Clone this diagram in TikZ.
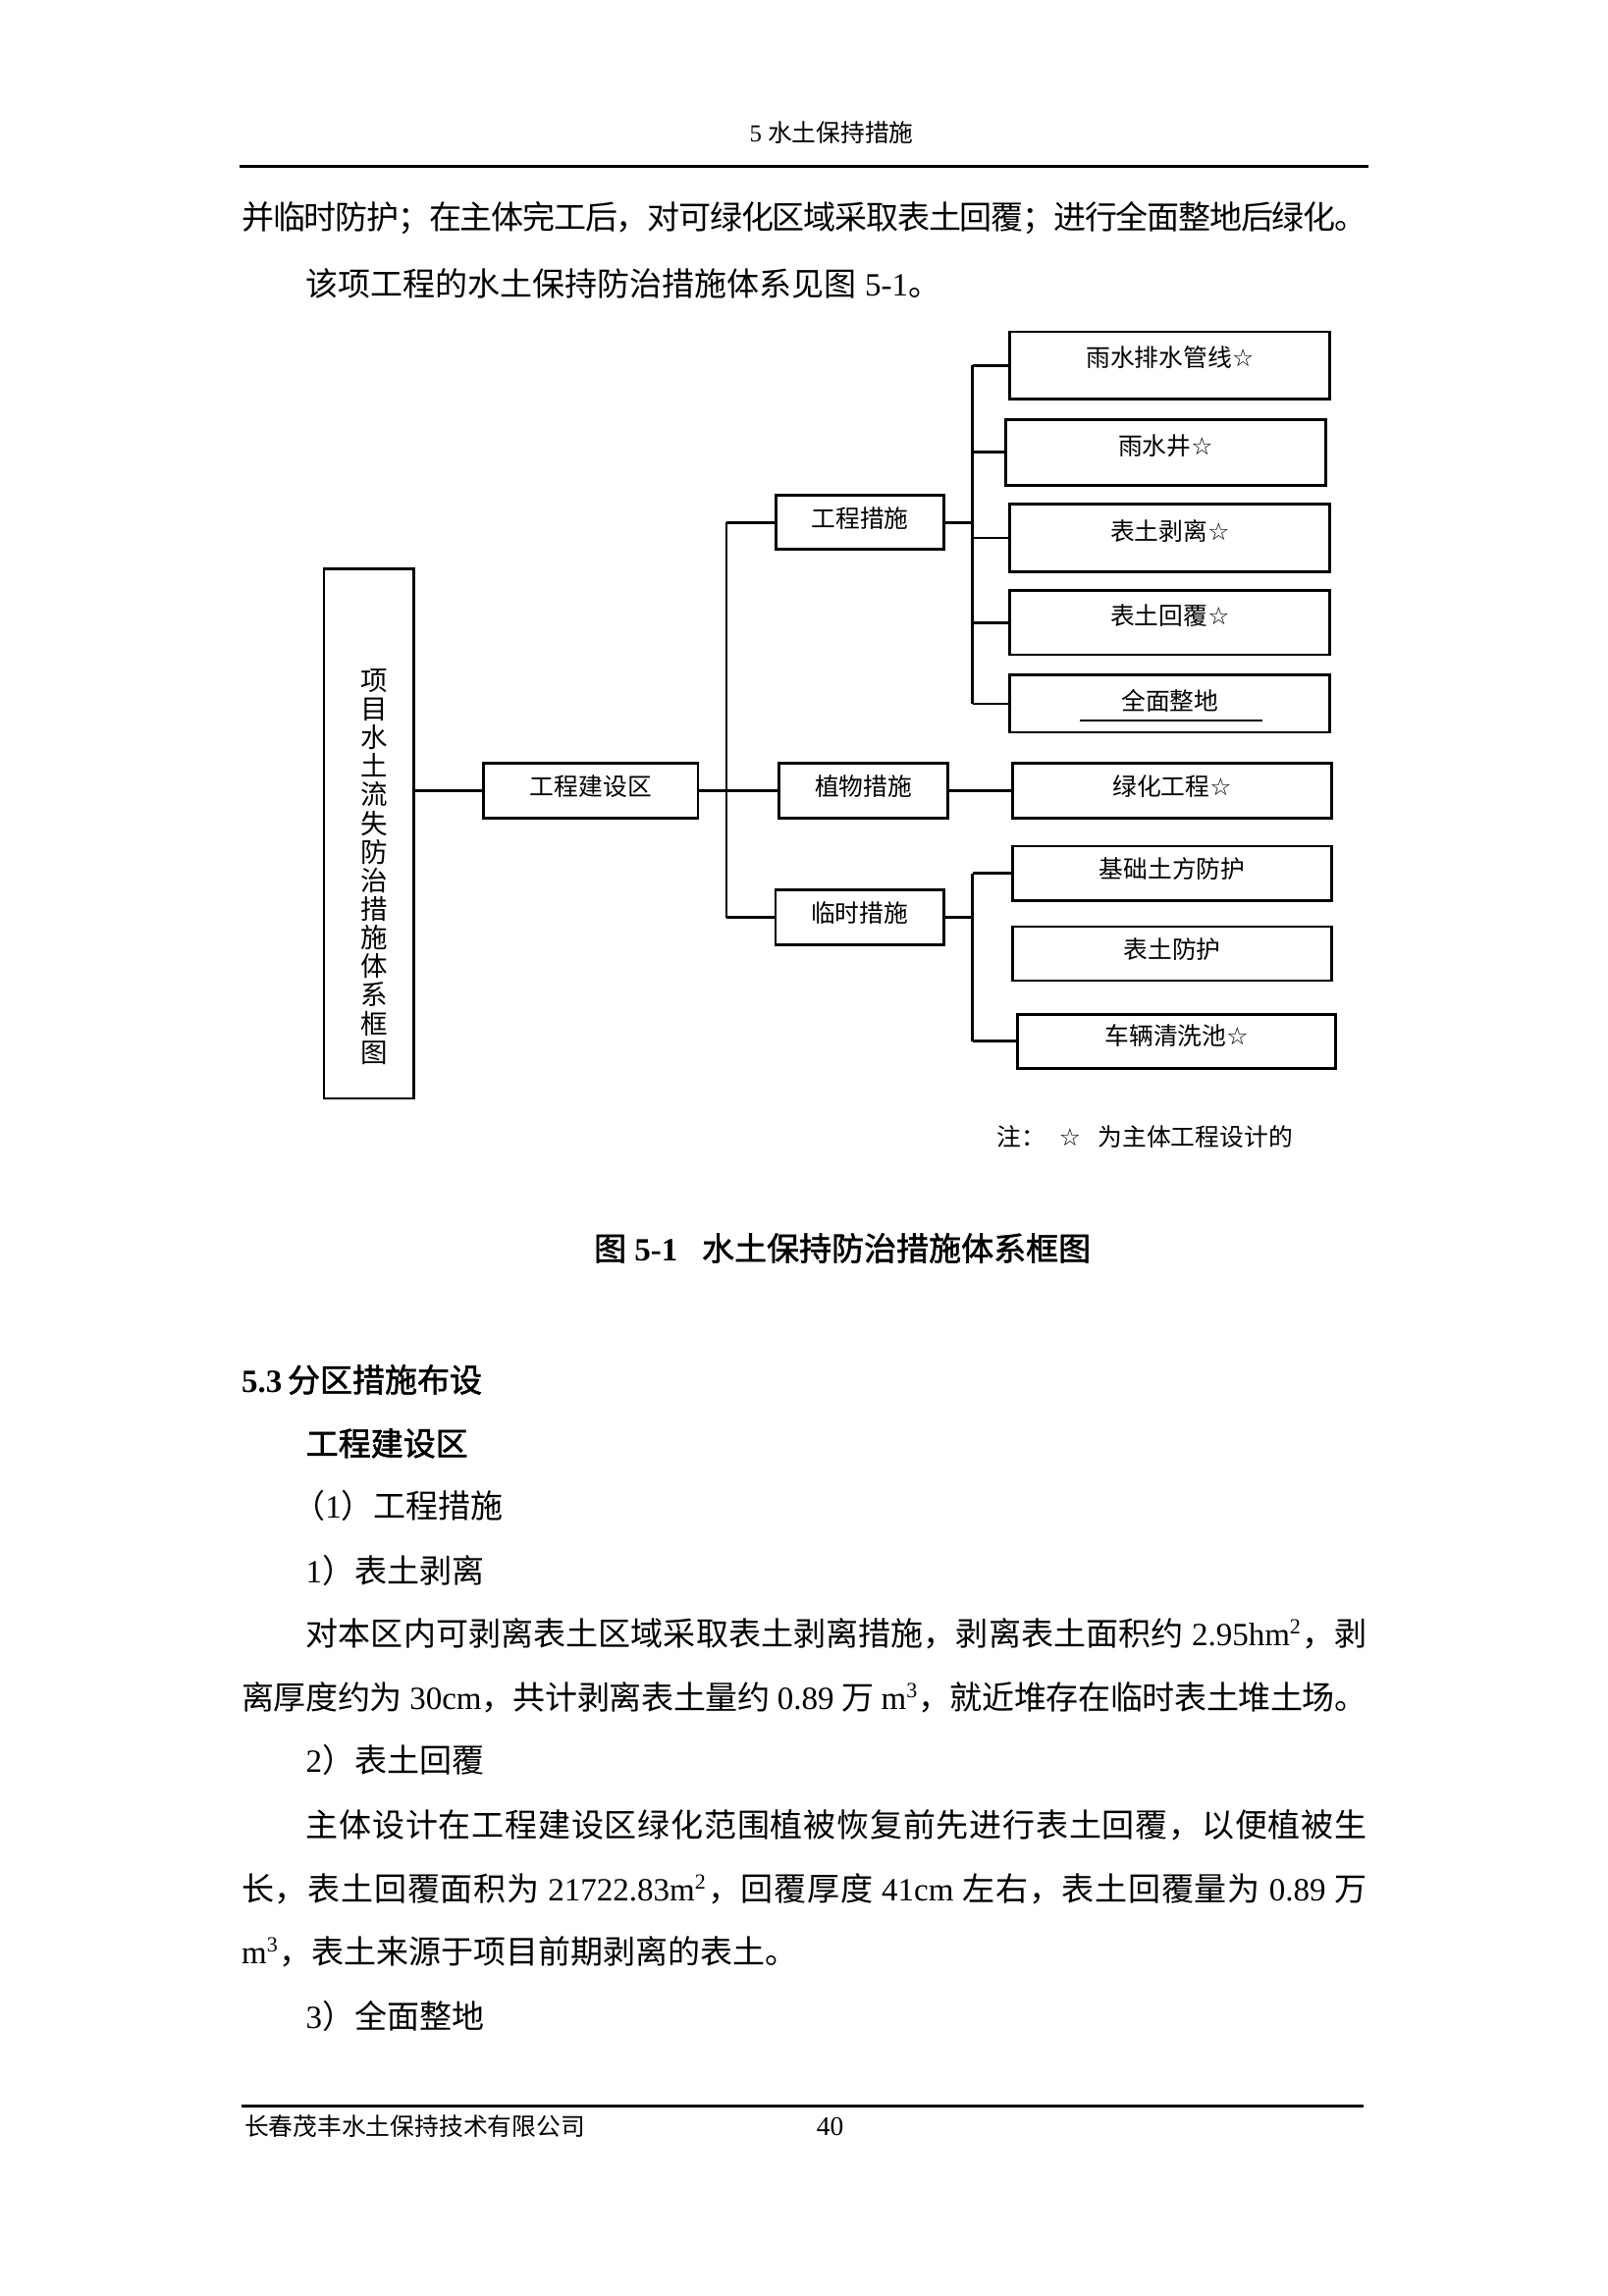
\documentclass[tikz,border=0pt]{standalone}
\usepackage{fontspec}
\setmainfont{Liberation Serif}
\newfontfamily\cjk{Noto Sans CJK SC}
\newfontfamily\cjkb[FakeBold=1.6]{Noto Sans CJK SC}
\newfontfamily\symf{DejaVu Sans}
\newcommand\latn{\rmfamily}
\newcommand\wstar{{\symf ☆}}
\newcommand\bt[2][2.3pt]{\raisebox{-#1}[\height][\depth]{#2}}
\usetikzlibrary{fit}
\makeatletter
\def\sp@end{\relax}
\def\sp@endmark{\sp@end}
\newcommand\spread[1]{\sp@first#1\sp@end}
\def\sp@first#1{{#1}\sp@next}
\def\sp@next#1{\def\sp@tmp{#1}\ifx\sp@tmp\sp@endmark\else\hskip0pt plus 1fil minus 1pt\relax{#1}\expandafter\sp@next\fi}
\makeatother
\tikzset{
  box/.style={draw, line width=1pt, inner sep=0pt, font=\cjk\fontsize{9}{10}\selectfont},
  conn/.style={line width=1pt},
  txt/.style={inner sep=0pt, anchor=west, font=\cjk\fontsize{12}{12}\selectfont},
  small/.style={inner sep=0pt, font=\cjk\fontsize{9}{10}\selectfont},
  rulebar/.style={line width=1.2pt},
}
\begin{document}
\begin{tikzpicture}[x=0.5412pt, y=-0.5412pt]
\useasboundingbox (0,0) rectangle (1100,1571);
\fill[white] (0,0) rectangle (1100,1571);

% header
\node[small, anchor=center] (hdr) at (569,91) {{\latn 5 }水土保持措施};
\draw[rulebar] (164,114) -- (936,114);

% top text
\node[txt] (p1) at (165,149) {\hbox to 416.7pt{\spread{并临时防护；在主体完工后，对可绿化区域采取表土回覆；进行全面整地后绿化。}}};
\node[txt] (p2) at (209,194) {该项工程的水土保持防治措施体系见图{\latn\ 5-1}。};

% diagram boxes
\node[box, fit={(221.6,389) (283,751.5)}] (big) {};
\node[inner sep=0pt, align=center, font=\cjk\fontsize{10}{10.6}\selectfont] (bigtxt) at (256,593) {项\\目\\水\\土\\流\\失\\防\\治\\措\\施\\体\\系\\框\\图};
\node[box, fit={(331,522) (477.5,560)}] (gcjsq) {\bt{工程建设区}};
\node[box, fit={(531,339) (646,376)}] (gccs) {\bt{工程措施}};
\node[box, fit={(533,522) (648.5,560)}] (zwcs) {\bt{植物措施}};
\node[box, fit={(530.6,609) (645.8,646.5)}] (lscs) {\bt{临时措施}};
\node[box, fit={(691,227) (910,273)}] (r1) {\bt[1pt]{雨水排水管线\wstar}};
\node[box, fit={(688,287) (907,332)}] (r2) {\bt[1.2pt]{雨水井\wstar}};
\node[box, fit={(691,345) (910,391)}] (r3) {\bt[1.2pt]{表土剥离\wstar}};
\node[box, fit={(691,404) (910,448)}] (r4) {\bt[1.2pt]{表土回覆\wstar}};
\node[box, fit={(691,462) (910,501)}] (r5) {\bt[2.8pt]{全面整地}};
\draw[line width=0.4pt] (739,493) -- (864,493);
\node[box, fit={(693,522) (911,560)}] (r6) {\bt{绿化工程\wstar}};
\node[box, fit={(693,579) (911,616)}] (r7) {\bt{基础土方防护}};
\node[box, fit={(693,634) (911,671)}] (r8) {\bt{表土防护}};
\node[box, fit={(696,694) (914,731)}] (r9) {\bt[1.8pt]{车辆清洗池\wstar}};

% connectors
\coordinate (ta) at (497,357.5);
\coordinate (tb) at (497,627.75);
\coordinate (tc) at (665.5,400);
\draw[conn] (big.east |- gcjsq.west) -- (gcjsq.west);
\draw[conn] (gcjsq.east) -- (gcjsq.east -| ta);
\draw[conn] (ta) -- (tb);
\draw[conn] (ta) -- (gccs.west);
\draw[conn] (zwcs.west -| ta) -- (zwcs.west);
\draw[conn] (tb) -- (lscs.west);
\draw[conn] (gccs.east) -- (gccs.east -| tc);
\draw[conn] (r1.west -| tc) -- (r5.west -| tc);
\foreach \r in {r1,r2,r3,r4,r5} { \draw[conn] (\r.west -| tc) -- (\r.west); }
\draw[conn] (zwcs.east) -- (r6.west);
\draw[conn] (lscs.east) -- (lscs.east -| tc);
\draw[conn] (r7.west -| tc) -- (r9.west -| tc);
\draw[conn] (r7.west -| tc) -- (r7.west);
\draw[conn] (r9.west -| tc) -- (r9.west);

% note
\node[small, anchor=west] (n1) at (682,778) {注：};
\node[small, anchor=center] (n2) at (732,778) {\wstar};
\node[small, anchor=west] (n3) at (751,778) {为主体工程设计的};

% caption
\node[txt] (cap) at (406,854) {{\cjkb 图}\hspace{3pt}{\latn\bfseries 5-1}\hspace{9pt}{\cjkb 水土保持防治措施体系框图}};

% section
\node[txt] (h53) at (165,944) {{\latn\bfseries 5.3}\hspace{2pt}{\cjkb 分区措施布设}};
\node[txt] (h2) at (209,987.5) {{\cjkb 工程建设区}};
\node[txt] (l1) at (200,1030.5) {（{\latn 1}）工程措施};
\node[txt] (l2) at (209,1074.5) {{\latn 1}）表土剥离};
\node[txt] (p3) at (209,1117.5) {\hbox to 392.9pt{\spread{对本区内可剥离表土区域采取表土剥离措施，剥离表土面积约{\latn\ 2.95hm\textsuperscript{2}}，剥}}};
\node[txt] (p4) at (165,1161.5) {\hbox to 416.7pt{\spread{离厚度约为{\latn\ 30cm}，共计剥离表土量约{\latn\ 0.89\ }万{\latn\ m\textsuperscript{3}}，就近堆存在临时表土堆土场。}}};
\node[txt] (l3) at (209,1204.5) {{\latn 2}）表土回覆};
\node[txt] (p5) at (209,1248.5) {\hbox to 392.9pt{\spread{主体设计在工程建设区绿化范围植被恢复前先进行表土回覆，以便植被生}}};
\node[txt] (p6) at (165,1292.5) {\hbox to 416.7pt{\spread{长，表土回覆面积为{\latn\ 21722.83m\textsuperscript{2}}，回覆厚度{\latn\ 41cm\ }左右，表土回覆量为{\latn\ 0.89\ }万}}};
\node[txt] (p7) at (165,1335.5) {{\latn m\textsuperscript{3}}，表土来源于项目前期剥离的表土。};
\node[txt] (l4) at (209,1379.5) {{\latn 3}）全面整地};

% footer
\draw[rulebar] (165,1441) -- (933,1441);
\node[small, anchor=west] (ftl) at (167,1455) {长春茂丰水土保持技术有限公司};
\node[small, anchor=center, font=\latn\fontsize{10}{10}\selectfont] (pg) at (568,1455) {40};
\end{tikzpicture}
\end{document}
